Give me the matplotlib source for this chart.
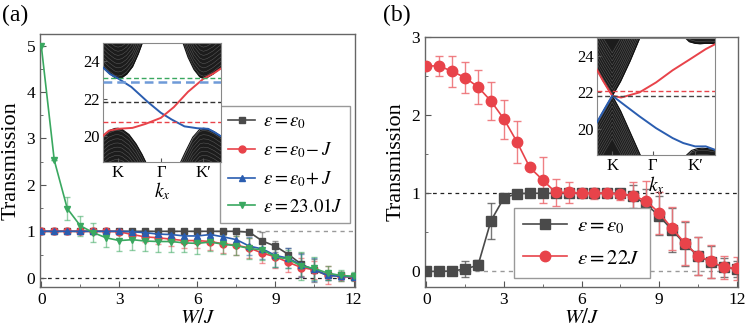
import matplotlib
matplotlib.use("Agg")
import matplotlib.pyplot as plt
import numpy as np
from matplotlib.ticker import MultipleLocator

plt.rcParams["font.family"] = ["Liberation Serif", "DejaVu Serif"]
plt.rcParams["mathtext.fontset"] = "stix"

# ---- main data: W/J grid ----
w = np.arange(0, 12.01, 0.5)

# panel (a)
a_black = [1, 1, 1, 1, 1, 1, 1, 1, 1, 1, 1, 1, 1, 1, 1, 1, 0.98, 0.79, 0.68, 0.5, 0.29, 0.16, 0.05, 0.05, 0.01]
a_black_err = [0, 0, 0, 0, 0, 0.02, 0.02, 0.03, 0.05, 0.06, 0.06, 0.06, 0.06, 0.06, 0.05, 0.05, 0.06, 0.2, 0.12, 0.15, 0.25, 0.25, 0.1, 0.08, 0.05]
a_red = [1, 1, 1, 1, 1, 1, 0.99, 0.93, 0.88, 0.86, 0.83, 0.8, 0.8, 0.78, 0.73, 0.7, 0.64, 0.53, 0.45, 0.33, 0.22, 0.17, 0.06, 0.03, 0.01]
a_red_err = [0.02, 0.02, 0.02, 0.02, 0.02, 0.03, 0.05, 0.1, 0.12, 0.13, 0.15, 0.15, 0.15, 0.18, 0.2, 0.2, 0.22, 0.22, 0.25, 0.2, 0.2, 0.2, 0.2, 0.1, 0.05]
a_blue = [1, 1, 1, 1, 1, 1, 1, 0.99, 0.97, 0.94, 0.93, 0.9, 0.9, 0.93, 0.88, 0.82, 0.68, 0.62, 0.48, 0.42, 0.27, 0.18, 0.05, 0.03, 0.02]
a_blue_err = [0.02, 0.02, 0.02, 0.02, 0.02, 0.03, 0.04, 0.06, 0.08, 0.1, 0.1, 0.1, 0.12, 0.1, 0.12, 0.15, 0.2, 0.22, 0.25, 0.22, 0.25, 0.25, 0.1, 0.08, 0.05]
a_green = [5.0, 2.53, 1.49, 1.12, 0.97, 0.86, 0.8, 0.82, 0.79, 0.78, 0.78, 0.75, 0.74, 0.77, 0.72, 0.69, 0.63, 0.6, 0.45, 0.4, 0.25, 0.2, 0.1, 0.05, 0.03]
a_green_err = [0, 0, 0.25, 0.22, 0.2, 0.2, 0.22, 0.22, 0.22, 0.22, 0.22, 0.2, 0.22, 0.2, 0.2, 0.2, 0.22, 0.22, 0.22, 0.2, 0.3, 0.25, 0.15, 0.12, 0.1]
a_labels = [r"$\varepsilon=\varepsilon_0$", r"$\varepsilon=\varepsilon_0\!-J$",
            r"$\varepsilon=\varepsilon_0\!+J$", r"$\varepsilon=23.01J$"]

# panel (b)
b_black = [0, 0, 0.005, 0.03, 0.08, 0.65, 0.94, 0.995, 1, 1, 1, 1, 1, 1, 1, 1, 0.96, 0.86, 0.71, 0.53, 0.35, 0.2, 0.12, 0.05, 0.03]
b_black_err = [0, 0, 0.01, 0.1, 0.06, 0.23, 0.05, 0.02, 0.01, 0.01, 0.02, 0.03, 0.03, 0.03, 0.04, 0.06, 0.15, 0.2, 0.25, 0.28, 0.28, 0.24, 0.2, 0.12, 0.1]
b_red = [2.63, 2.63, 2.56, 2.48, 2.36, 2.18, 1.95, 1.66, 1.33, 1.17, 1.01, 1.01, 1.0, 1.0, 1.0, 0.99, 0.97, 0.9, 0.75, 0.55, 0.36, 0.2, 0.13, 0.05, 0.04]
b_red_err = [0, 0.13, 0.2, 0.2, 0.22, 0.24, 0.25, 0.27, 0, 0.3, 0.17, 0.14, 0.05, 0.07, 0.05, 0.07, 0.17, 0.26, 0.27, 0.28, 0.28, 0.24, 0.21, 0.15, 0.15]
b_labels = [r"$\varepsilon=\varepsilon_0$", r"$\varepsilon=22J$"]

# ---- inset band structures (k as fraction of the inset width) ----
ia_ticks = [0.127, 0.49, 0.85]
ia_up_K_k = [0, 0.05, 0.1, 0.127, 0.16, 0.2, 0.25, 0.3, 0.335]
ia_up_K_E = [23.65, 23.35, 23.12, 23.07, 23.12, 23.3, 23.7, 24.4, 25.0]
ia_up_Kp_k = [0.675, 0.72, 0.77, 0.82, 0.85, 0.88, 0.93, 0.97, 1.0]
ia_up_Kp_E = [25.0, 24.2, 23.55, 23.15, 23.07, 23.12, 23.3, 23.5, 23.65]
ia_lo_K_k = [0, 0.05, 0.1, 0.127, 0.16, 0.22, 0.28, 0.33, 0.365]
ia_lo_K_E = [20.03, 20.3, 20.42, 20.43, 20.38, 20.1, 19.6, 19.05, 18.6]
ia_lo_Kp_k = [0.655, 0.7, 0.76, 0.82, 0.85, 0.89, 0.94, 1.0]
ia_lo_Kp_E = [18.6, 19.2, 19.95, 20.38, 20.43, 20.4, 20.25, 20.0]
ia_blue_k = [0, 0.06, 0.127, 0.24, 0.38, 0.49, 0.58, 0.69, 0.8, 0.89, 0.95, 1.0]
ia_blue_E = [23.65, 23.3, 23.07, 22.62, 21.82, 21.25, 20.9, 20.53, 20.43, 20.4, 20.2, 20.0]
ia_red_k = [0, 0.05, 0.127, 0.25, 0.36, 0.49, 0.6, 0.72, 0.85, 0.94, 1.0]
ia_red_E = [20.03, 20.3, 20.4, 20.45, 20.66, 20.98, 21.55, 22.36, 23.05, 23.35, 23.6]
ia_levels = [23.09, 22.86, 21.8, 20.77]

ib_ticks = [0.13, 0.47, 0.83]
ib_up_K_k = [0, 0.065, 0.13, 0.2, 0.28, 0.365]
ib_up_K_E = [23.23, 22.5, 21.82, 22.6, 23.7, 25.0]
ib_lo_K_k = [0, 0.065, 0.13, 0.2, 0.28, 0.37]
ib_lo_K_E = [20.37, 21.1, 21.82, 21.0, 19.85, 18.55]
ib_up_Kp_k = [0.74, 0.78, 0.83, 0.87, 0.92, 0.96, 1.0]
ib_up_Kp_E = [25.0, 24.75, 24.66, 24.64, 24.66, 24.66, 24.64]
ib_lo_Kp_k = [0.75, 0.8, 0.85, 0.89, 0.94, 1.0]
ib_lo_Kp_E = [18.55, 18.85, 18.95, 18.97, 18.95, 18.88]
ib_red_k = [0, 0.05, 0.1, 0.13, 0.205, 0.36, 0.5, 0.64, 0.78, 0.92, 1.0]
ib_red_E = [23.23, 22.65, 22.12, 21.82, 21.72, 22.0, 22.54, 23.2, 23.77, 24.35, 24.62]
ib_blue_k = [0, 0.065, 0.13, 0.23, 0.36, 0.5, 0.64, 0.73, 0.83, 0.92, 1.0]
ib_blue_E = [20.37, 21.1, 21.82, 21.33, 20.7, 20.06, 19.52, 19.25, 19.07, 19.07, 18.88]
ib_levels = [22.05, 21.78]

BLACK = "#4a4a4a"
RED = "#e8434a"
BLUE = "#2a5db0"
GREEN = "#3aa860"


def style_main(ax, ymax, ymajor):
    ax.set_xlim(-0.05, 12.05)
    ax.set_ylim(-0.2, ymax)
    ax.xaxis.set_major_locator(MultipleLocator(3))
    ax.xaxis.set_minor_locator(MultipleLocator(1.5))
    ax.yaxis.set_major_locator(MultipleLocator(ymajor))
    ax.yaxis.set_minor_locator(MultipleLocator(ymajor / 2))
    ax.tick_params(which="both", direction="in", labelsize=12.5, color="#555555")
    ax.tick_params(which="major", length=4)
    ax.tick_params(which="minor", length=2.5)
    for s in ax.spines.values():
        s.set_color("#666666")
        s.set_linewidth(1.0)
    ax.set_xlabel(r"$W/J$", fontsize=15, labelpad=1)
    ax.set_ylabel("Transmission", fontsize=16, labelpad=4)


def bulk(ax, k, E, up):
    k = np.asarray(k)
    E = np.asarray(E)
    lim = 26 if up else 18
    ax.fill_between(k, E, lim, color="#1c1c1c", lw=0, zorder=1)
    # fine texture of many subbands
    for d in np.arange(0.12, 2.5, 0.22):
        ax.plot(k, E + d if up else E - d, color="#8a8a8a", lw=0.35, alpha=0.6, zorder=1.5)
    ax.plot(k, E, color="#111111", lw=0.8, zorder=1.6)


def style_inset(ax, ticks, ylim):
    ax.set_xlim(0, 1)
    ax.set_ylim(*ylim)
    ax.set_xticks(ticks)
    ax.set_xticklabels(["K", "Γ", "K′"])
    ax.set_yticks([20, 22, 24])
    ax.tick_params(direction="in", labelsize=12, length=3, pad=2, color="#555555")
    for s in ax.spines.values():
        s.set_color("#888888")
        s.set_linewidth(0.8)


fig = plt.figure(figsize=(7.47, 3.32), dpi=100)

# ---------------- panel (a) ----------------
ax1 = fig.add_axes([0.0535, 0.1355, 0.4215, 0.762])
ax1.axhline(1, color="#999999", ls="--", lw=1.0, dashes=(3, 3), zorder=0)
ax1.axhline(0, color="#222222", ls="--", lw=0.9, dashes=(3, 3), zorder=0)
series_a = [(a_black, a_black_err, BLACK, "s"), (a_red, a_red_err, RED, "o"),
            (a_blue, a_blue_err, BLUE, "^"), (a_green, a_green_err, GREEN, "v")]
handles = []
for (y, e, c, m), lab in zip(series_a, a_labels):
    ax1.errorbar(w, y, yerr=e, fmt="none", ecolor=c, alpha=0.55, elinewidth=1.0,
                 capsize=2.5, capthick=1.0, zorder=2)
    h, = ax1.plot(w, y, color=c, marker=m, ms=5, lw=1.2, label=lab, zorder=3)
    handles.append(h)
style_main(ax1, 5.25, 1)
ax1.legend(handles=handles, loc="upper right", bbox_to_anchor=(0.985, 0.715),
           borderaxespad=0, fontsize=13.5, frameon=True, fancybox=False,
           edgecolor="#999999", framealpha=1, labelspacing=0.48, handlelength=1.45,
           handletextpad=0.4, borderpad=0.4)
fig.text(0.003, 0.985, "(a)", fontsize=17, va="top", ha="left")

ins1 = fig.add_axes([0.1379, 0.512, 0.158, 0.3585])
bulk(ins1, ia_up_K_k, ia_up_K_E, True)
bulk(ins1, ia_up_Kp_k, ia_up_Kp_E, True)
bulk(ins1, ia_lo_K_k, ia_lo_K_E, False)
bulk(ins1, ia_lo_Kp_k, ia_lo_Kp_E, False)
ins1.plot(ia_blue_k, ia_blue_E, color=BLUE, lw=1.4, zorder=3)
ins1.plot(ia_red_k, ia_red_E, color=RED, lw=1.4, zorder=3)
for lev, c, lw in zip(ia_levels, [GREEN, "#6f9ad8", "#333333", RED], [1.0, 1.8, 1.0, 1.0]):
    ins1.axhline(lev, color=c, ls="--", lw=lw, dashes=(3.5, 2), zorder=4)
style_inset(ins1, ia_ticks, (18.64, 24.95))
ins1.set_xlabel(r"$k_x$", fontsize=14, labelpad=0)

# ---------------- panel (b) ----------------
ax2 = fig.add_axes([0.569, 0.1355, 0.419, 0.753])
ax2.axhline(1, color="#222222", ls="--", lw=0.9, dashes=(3, 3), zorder=0)
ax2.axhline(0, color="#999999", ls="--", lw=1.0, dashes=(3, 3), zorder=0)
ax2.errorbar(w, b_black, yerr=b_black_err, fmt="none", ecolor="#555555", alpha=0.8,
             elinewidth=1.0, capsize=3, capthick=1.0, zorder=2)
ax2.errorbar(w, b_red, yerr=b_red_err, fmt="none", ecolor="#ee7277", alpha=0.9,
             elinewidth=1.0, capsize=3, capthick=1.0, zorder=2)
hb1, = ax2.plot(w, b_black, color=BLACK, marker="s", ms=6.5, lw=1.2, label=b_labels[0], zorder=3)
hb2, = ax2.plot(w, b_red, color=RED, marker="o", ms=7.5, lw=1.2, label=b_labels[1], zorder=4)
style_main(ax2, 3.0, 1)
ax2.legend(handles=[hb1, hb2], loc="lower left", bbox_to_anchor=(0.284, 0.036),
           borderaxespad=0, fontsize=15, frameon=True, fancybox=False,
           edgecolor="#999999", framealpha=1, labelspacing=0.6, handlelength=2.1,
           handletextpad=0.5, borderpad=0.45)
fig.text(0.513, 0.985, "(b)", fontsize=17, va="top", ha="left")

ins2 = fig.add_axes([0.799, 0.533, 0.1585, 0.3525])
bulk(ins2, ib_up_K_k, ib_up_K_E, True)
bulk(ins2, ib_lo_K_k, ib_lo_K_E, False)
bulk(ins2, ib_up_Kp_k, ib_up_Kp_E, True)
bulk(ins2, ib_lo_Kp_k, ib_lo_Kp_E, False)
ins2.plot(ib_red_k, ib_red_E, color=RED, lw=1.4, zorder=3)
ins2.plot(ib_blue_k, ib_blue_E, color=BLUE, lw=1.4, zorder=3)
for lev, c in zip(ib_levels, [RED, "#444444"]):
    ins2.axhline(lev, color=c, ls="--", lw=1.0, dashes=(3.5, 2), zorder=4)
style_inset(ins2, ib_ticks, (18.6, 24.95))
ins2.set_xlabel(r"$k_x$", fontsize=14, labelpad=0)

fig.savefig("out.png", dpi=100)
